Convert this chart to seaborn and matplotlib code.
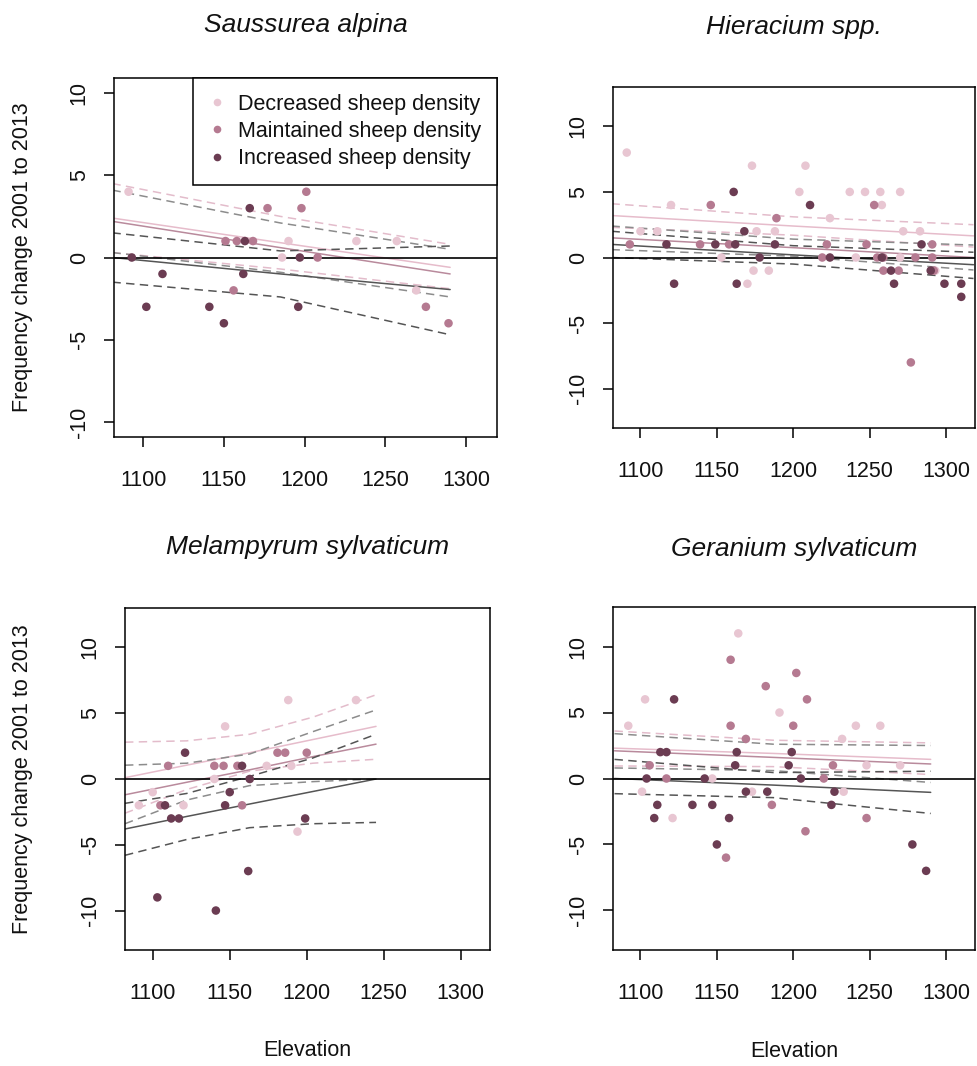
import pandas as pd
import seaborn as sns
import matplotlib.pyplot as plt
from matplotlib.lines import Line2D

sns.set_theme(style="ticks")
plt.rcParams['font.family'] = ['Liberation Sans', 'DejaVu Sans']
plt.rcParams['axes.unicode_minus'] = False

groups = ["Decreased sheep density", "Maintained sheep density", "Increased sheep density"]
point_colors = ["#e8c6d2", "#b57a91", "#6b3c52"]
fit_colors = ["#e6bccb", "#b98a9c", "#555555"]
ci_colors = ["#e3bccb", "#8c8c8c", "#555555"]

# --- Saussurea alpina (points) ---
sa_dec_x = [1091, 1186, 1190, 1232, 1257, 1269]
sa_dec_y = [4, 0, 1, 1, 1, -2]
sa_main_x = [1151, 1156, 1158, 1168, 1177, 1198, 1201, 1208, 1275, 1289]
sa_main_y = [1, -2, 1, 1, 3, 3, 4, 0, -3, -4]
sa_inc_x = [1093, 1102, 1112, 1141, 1150, 1162, 1163, 1166, 1196, 1197]
sa_inc_y = [0, -3, -1, -3, -4, -1, 1, 3, -3, 0]
# fitted lines and confidence bands, read at a few elevations
sa_line_x = [1081, 1185, 1290]
sa_dec_fit = [2.4, 0.9, -0.6]
sa_dec_lo = [0.3, -0.7, -1.9]
sa_dec_hi = [4.5, 2.5, 0.8]
sa_main_fit = [2.2, 0.6, -1.0]
sa_main_lo = [0.3, -0.9, -2.4]
sa_main_hi = [4.1, 2.1, 0.5]
sa_inc_fit = [0.0, -1.0, -1.95]
sa_inc_lo = [-1.5, -2.4, -4.7]
sa_inc_hi = [1.5, 0.4, 0.7]

# --- Hieracium spp. ---
hi_dec_x = [1091, 1100, 1111, 1120, 1153, 1170, 1173, 1174, 1176, 1184, 1188, 1204,
            1208, 1224, 1237, 1241, 1247, 1257, 1258, 1270, 1270, 1272, 1283, 1293]
hi_dec_y = [8, 2, 2, 4, 0, -2, 7, -1, 2, -1, 2, 5,
            7, 3, 5, 0, 5, 5, 4, 5, 0, 2, 2, -1]
hi_main_x = [1093, 1139, 1146, 1158, 1189, 1219, 1222, 1248, 1253, 1255, 1259, 1259,
             1269, 1277, 1280, 1291, 1291, 1292]
hi_main_y = [1, 1, 4, 1, 3, 0, 1, 1, 4, 0, 0, -1,
             -1, -8, 0, 1, 0, -1]
hi_inc_x = [1117, 1122, 1149, 1161, 1162, 1163, 1168, 1178, 1188, 1211, 1224, 1258,
            1264, 1266, 1284, 1290, 1299, 1310, 1310]
hi_inc_y = [1, -2, 1, 5, 1, -2, 2, 0, 1, 4, 0, 0,
            -1, -2, 1, -1, -2, -2, -3]
hi_line_x = [1081, 1200, 1318]
hi_dec_fit = [3.2, 2.4, 1.65]
hi_dec_lo = [2.3, 1.7, 0.8]
hi_dec_hi = [4.1, 3.1, 2.5]
hi_main_fit = [1.5, 0.75, 0.0]
hi_main_lo = [0.6, 0.1, -0.95]
hi_main_hi = [2.4, 1.4, 0.95]
hi_inc_fit = [1.0, 0.2, -0.55]
hi_inc_lo = [0.0, -0.5, -1.6]
hi_inc_hi = [2.0, 0.9, 0.4]

# --- Melampyrum sylvaticum ---
me_dec_x = [1091, 1100, 1120, 1140, 1147, 1174, 1188, 1190, 1194, 1232]
me_dec_y = [-2, -1, -2, 0, 4, 1, 6, 1, -4, 6]
me_main_x = [1105, 1110, 1140, 1146, 1155, 1158, 1181, 1186, 1200]
me_main_y = [-2, 1, 1, 1, 1, -2, 2, 2, 2]
me_inc_x = [1103, 1108, 1112, 1117, 1121, 1141, 1147, 1150, 1158, 1162, 1163, 1199]
me_inc_y = [-9, -2, -3, -3, 2, -10, -2, -1, 1, -7, 0, -3]
me_line_x = [1082, 1122, 1163, 1204, 1245]
me_dec_fit = [0.1, 1.05, 2.0, 3.0, 4.0]
me_dec_lo = [-2.6, -0.8, 0.6, 1.2, 1.5]
me_dec_hi = [2.8, 2.9, 3.4, 4.7, 6.4]
me_main_fit = [-1.2, -0.25, 0.7, 1.7, 2.65]
me_main_lo = [-3.4, -1.6, -0.5, -0.2, 0.0]
me_main_hi = [1.05, 1.2, 1.9, 3.6, 5.25]
me_inc_fit = [-3.8, -2.85, -1.9, -0.95, 0.0]
me_inc_lo = [-5.8, -4.6, -3.7, -3.4, -3.3]
me_inc_hi = [-1.85, -1.1, 0.2, 1.6, 3.4]

# --- Geranium sylvaticum ---
ge_dec_x = [1092, 1101, 1103, 1121, 1147, 1164, 1173, 1191, 1232, 1233, 1241, 1248, 1257, 1270]
ge_dec_y = [4, -1, 6, -3, 0, 11, -1, 5, 3, -1, 4, 1, 4, 1]
ge_main_x = [1106, 1117, 1156, 1159, 1159, 1169, 1182, 1186, 1200, 1202, 1208, 1209, 1220, 1226, 1248]
ge_main_y = [1, 0, -6, 9, 4, 3, 7, -2, 4, 8, -4, 6, 0, 1, -3]
ge_inc_x = [1104, 1109, 1111, 1113, 1117, 1122, 1134, 1142, 1147, 1150, 1158, 1162,
            1163, 1169, 1183, 1197, 1199, 1205, 1225, 1227, 1278, 1287]
ge_inc_y = [0, -3, -2, 2, 2, 6, -2, 0, -2, -5, -3, 1,
            2, -1, -1, 1, 2, 0, -2, -1, -5, -7]
ge_line_x = [1083, 1187, 1290]
ge_dec_fit = [2.3, 1.9, 1.45]
ge_dec_lo = [0.95, 0.9, 0.3]
ge_dec_hi = [3.6, 2.9, 2.7]
ge_main_fit = [2.1, 1.6, 1.1]
ge_main_lo = [0.8, 0.6, -0.3]
ge_main_hi = [3.4, 2.6, 2.5]
ge_inc_fit = [0.0, -0.5, -1.05]
ge_inc_lo = [-1.15, -1.45, -2.65]
ge_inc_hi = [1.45, 0.45, 0.55]

W, H = 978, 1066
fig = plt.figure(figsize=(W / 100, H / 100), dpi=100)
FS = 15.5


def box(l, t, r, b):
    return [l / W, 1 - b / H, (r - l) / W, (b - t) / H]


def panel(rect, title, title_y, ylim, pts, line_x, lines, ylabel=None, xlabel=False):
    ax = fig.add_axes(rect)
    for (fit, lo, hi), fc, cc in zip(lines, fit_colors, ci_colors):
        ax.plot(line_x, hi, color=cc, lw=1.1, ls=(0, (5.5, 3.5)), zorder=2)
        ax.plot(line_x, lo, color=cc, lw=1.1, ls=(0, (5.5, 3.5)), zorder=2)
        ax.plot(line_x, fit, color=fc, lw=1.1, zorder=2)
    ax.axhline(0, color="black", lw=1.2, zorder=2.5)
    frames = []
    for g, (xs, ys) in zip(groups, pts):
        frames.append(pd.DataFrame({"elev": xs, "change": ys, "group": g}))
    df = pd.concat(frames)
    sns.scatterplot(data=df, x="elev", y="change", hue="group", hue_order=groups,
                    palette=point_colors, s=38, linewidth=0, legend=False, ax=ax, zorder=3)
    ax.set_xlim(1082, 1319)
    ax.set_ylim(-ylim, ylim)
    ax.set_xticks([1100, 1150, 1200, 1250, 1300])
    ax.set_yticks([-10, -5, 0, 5, 10])
    ax.set_xlabel("")
    ax.set_ylabel("")
    for s in ax.spines.values():
        s.set_linewidth(1.1)
        s.set_color("black")
    ax.tick_params(axis="both", direction="out", length=7.5, width=1.1, color="black",
                   labelsize=FS, labelcolor="#111111")
    ax.tick_params(axis="x", pad=16)
    ax.tick_params(axis="y", pad=10, labelrotation=90)
    for lab in ax.get_yticklabels():
        lab.set_va("center")
    ax.text(0.5, title_y, title, transform=ax.transAxes, ha="center", va="center",
            fontsize=19, style="italic", color="#111111")
    if ylabel is not None:
        ax.text(ylabel, 0.5, "Frequency change 2001 to 2013", transform=ax.transAxes,
                rotation=90, ha="center", va="center", fontsize=FS, color="#111111")
    if xlabel:
        ax.text(0.5, -0.295, "Elevation", transform=ax.transAxes, ha="center",
                va="center", fontsize=FS, color="#111111")
    return ax


ax1 = panel(box(114, 78, 497, 437), "Saussurea alpina", 1.147, 10.92,
            [(sa_dec_x, sa_dec_y), (sa_main_x, sa_main_y), (sa_inc_x, sa_inc_y)],
            sa_line_x,
            [(sa_dec_fit, sa_dec_lo, sa_dec_hi), (sa_main_fit, sa_main_lo, sa_main_hi),
             (sa_inc_fit, sa_inc_lo, sa_inc_hi)], ylabel=-0.24)
handles = [Line2D([], [], marker="o", ls="", markersize=5.5, markerfacecolor=c,
                  markeredgewidth=0) for c in point_colors]
leg = ax1.legend(handles, groups, loc="upper right", borderaxespad=0, frameon=True,
                 fancybox=False, fontsize=FS, handlelength=0.8, handletextpad=0.6,
                 borderpad=0.72, labelspacing=0.3)
leg.get_frame().set_edgecolor("black")
leg.get_frame().set_linewidth(1.1)
leg.get_frame().set_alpha(1)
for t in leg.get_texts():
    t.set_color("#111111")

panel(box(613, 87, 975, 428), "Hieracium spp.", 1.175, 13.0,
      [(hi_dec_x, hi_dec_y), (hi_main_x, hi_main_y), (hi_inc_x, hi_inc_y)],
      hi_line_x,
      [(hi_dec_fit, hi_dec_lo, hi_dec_hi), (hi_main_fit, hi_main_lo, hi_main_hi),
       (hi_inc_fit, hi_inc_lo, hi_inc_hi)])

panel(box(125, 608, 490, 950), "Melampyrum sylvaticum", 1.178, 13.0,
      [(me_dec_x, me_dec_y), (me_main_x, me_main_y), (me_inc_x, me_inc_y)],
      me_line_x,
      [(me_dec_fit, me_dec_lo, me_dec_hi), (me_main_fit, me_main_lo, me_main_hi),
       (me_inc_fit, me_inc_lo, me_inc_hi)], ylabel=-0.282, xlabel=True)

panel(box(613, 607, 975, 950), "Geranium sylvaticum", 1.169, 13.0,
      [(ge_dec_x, ge_dec_y), (ge_main_x, ge_main_y), (ge_inc_x, ge_inc_y)],
      ge_line_x,
      [(ge_dec_fit, ge_dec_lo, ge_dec_hi), (ge_main_fit, ge_main_lo, ge_main_hi),
       (ge_inc_fit, ge_inc_lo, ge_inc_hi)], xlabel=True)

fig.savefig("out.png", dpi=100, facecolor="white")
